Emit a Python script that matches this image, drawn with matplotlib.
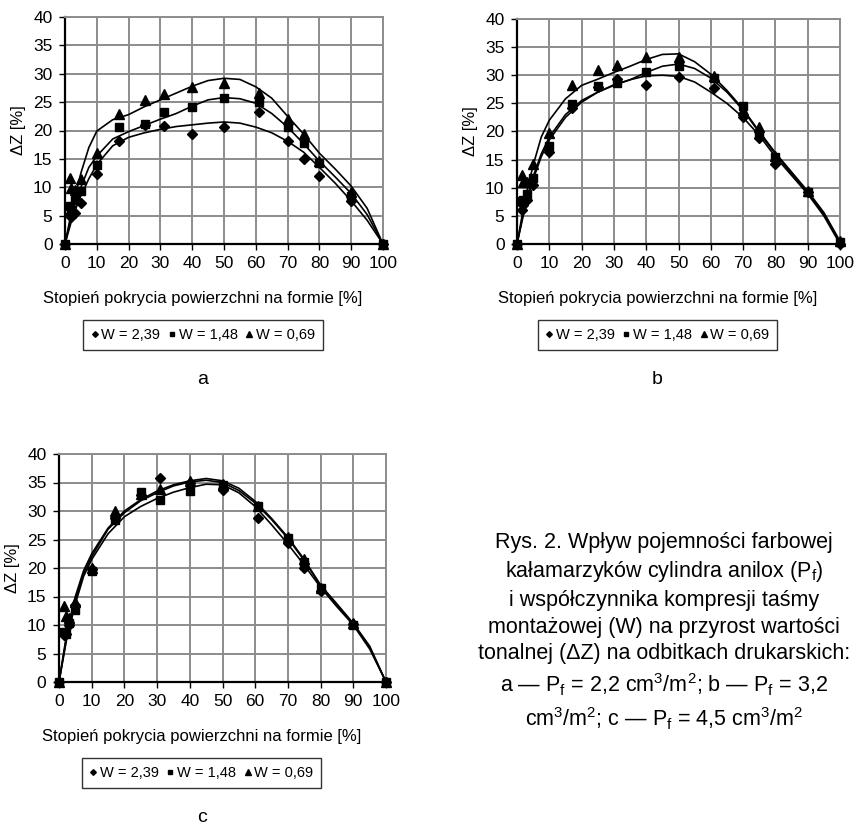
import matplotlib
matplotlib.use('Agg')
import matplotlib.pyplot as plt
from matplotlib.lines import Line2D

plt.rcParams['font.family'] = ['Liberation Sans', 'DejaVu Sans']
plt.rcParams['mathtext.fontset'] = 'custom'
plt.rcParams['mathtext.rm'] = 'Liberation Sans'
plt.rcParams['mathtext.it'] = 'Liberation Sans:italic'

# stopien pokrycia powierzchni na formie [%] - punkty pomiarowe
pokrycie = [0, 1.5, 2, 3, 5, 10, 17, 25, 31, 40, 50, 61, 70, 75, 80, 90, 100]

# przyrost wartosci tonalnej dZ [%], Pf = 2,2 cm3/m2
a_w239 = [0, 5.2, 4.8, 5.5, 7.3, 12.3, 18.1, 21.0, 20.8, 19.3, 20.7, 23.2, 18.1, 15.0, 11.9, 7.5, 0]
a_w148 = [0, 6.7, 6.0, 7.8, 9.3, 13.9, 20.6, 21.2, 23.2, 24.1, 25.8, 25.1, 20.6, 17.8, 14.2, 8.4, 0]
a_w069 = [0, 11.7, 9.8, 9.5, 11.4, 16.0, 22.9, 25.4, 26.5, 27.7, 28.4, 26.6, 22.0, 19.4, 14.6, 9.1, 0]

# Pf = 3,2 cm3/m2
b_w239 = [0, 6.1, 7.0, 7.9, 10.5, 16.4, 24.1, 27.9, 29.3, 28.2, 29.6, 27.8, 22.5, 18.8, 14.2, 9.2, 0]
b_w148 = [0, 7.6, 7.8, 8.9, 11.7, 17.5, 24.9, 28.0, 28.6, 30.5, 31.7, 29.5, 24.6, 19.5, 15.5, 9.3, 0.3]
b_w069 = [0, 12.3, 11.1, 11.0, 14.2, 19.8, 28.3, 30.9, 31.8, 33.2, 33.2, 29.8, 23.8, 20.8, 15.7, 9.5, 0.5]

# Pf = 4,5 cm3/m2
c_w239 = [0, 8.3, 8.5, 10.0, 13.5, 19.8, 28.7, 32.8, 35.8, 35.0, 33.6, 28.8, 24.4, 20.0, 16.0, 10.2, 0]
c_w148 = [0, 8.8, 8.5, 10.3, 12.6, 19.5, 28.5, 33.3, 32.0, 33.5, 34.5, 30.9, 25.3, 21.0, 16.5, 10.0, 0]
c_w069 = [0, 13.3, 11.6, 11.2, 14.0, 20.0, 30.0, 33.0, 33.9, 35.2, 34.8, 30.8, 25.5, 21.5, 16.5, 10.3, 0]

# linie trendu
x_trend = [0, 2.5, 5, 7.5, 10, 15, 20, 25, 30, 35, 40, 45, 50, 55, 60, 65, 70, 75, 80, 85, 90, 95, 100]
a_t239 = [0, 5, 8.5, 11.5, 14.0, 17.3, 18.8, 19.6, 20.2, 20.7, 21.0, 21.3, 21.5, 21.3, 20.6, 19.6, 18.1, 16.2, 13.5, 10.7, 7.6, 4.2, 0]
a_t148 = [0, 6, 10, 13.5, 15.5, 18.5, 19.8, 20.9, 22.0, 23.0, 24.3, 25.4, 25.8, 25.6, 24.8, 23.0, 20.6, 17.7, 14.6, 11.8, 8.9, 5.2, 0]
a_t069 = [0, 7, 12.5, 17, 19.9, 21.9, 22.8, 24.2, 25.4, 26.6, 27.8, 28.8, 29.2, 29.0, 27.7, 25.7, 22.5, 19.4, 16.0, 13.2, 10.2, 6.3, 0]
b_t239 = [0, 6.5, 11.5, 15.5, 18.5, 22.5, 25.2, 27.0, 28.2, 29.2, 29.9, 30.0, 29.8, 28.8, 27.0, 25.0, 22.5, 19.3, 15.5, 12.2, 8.9, 5.0, 0]
b_t148 = [0, 7, 12, 16, 19, 23, 25.5, 27, 28.3, 29.2, 30.5, 31.6, 32, 31.2, 29.5, 27, 23.8, 19.8, 16, 12.5, 9.1, 5.3, 0.3]
b_t069 = [0, 8, 14, 19, 22, 25.8, 28.2, 29.3, 30.5, 31.6, 32.8, 33.7, 33.8, 32.4, 30.2, 27.3, 24.0, 20.0, 16.2, 12.8, 9.4, 5.6, 0.5]
c_t239 = [0, 8, 13.7, 18.5, 21.5, 26, 29, 30.8, 32.2, 33.3, 34.1, 34.7, 34.6, 33.2, 30.8, 27.6, 24.2, 20.5, 16.6, 13.2, 10, 5.8, 0]
c_t148 = [0, 8.5, 14.3, 19, 22, 26.8, 29.7, 31.8, 33.2, 34.4, 35.1, 35.4, 35.0, 33.6, 31.4, 28.5, 25.2, 21.3, 16.9, 13.5, 10.2, 6.1, 0]
c_t069 = [0, 9, 15, 19.5, 22.5, 27, 30, 32, 33.5, 34.6, 35.3, 35.7, 35.3, 34, 31.7, 28.7, 25.4, 21.5, 17, 13.7, 10.3, 6.3, 0]

etykiety = ['W = 2,39', 'W = 1,48', 'W = 0,69']
markery = [('D', 4.8), ('s', 5.2), ('^', 6.5)]

W, H = 856, 826
fig = plt.figure(figsize=(W / 100, H / 100), dpi=100)


def box(left, top, right, bottom):
    return [left / W, 1 - bottom / H, (right - left) / W, (bottom - top) / H]


def panel(rect, punkty, trendy, litera):
    ax = fig.add_axes(box(*rect))
    for t in trendy:
        ax.plot(x_trend, t, color='black', lw=1.2, zorder=3)
    for y, (m, s) in zip(punkty, markery):
        ax.plot(pokrycie, y, ls='none', marker=m, ms=s, color='black', zorder=4, clip_on=False)
    ax.set_xlim(0, 100)
    ax.set_ylim(0, 40)
    ax.set_xticks(range(0, 101, 10))
    ax.set_yticks(range(0, 41, 5))
    ax.grid(True, color='#8c8c8c', lw=1.4)
    ax.set_axisbelow(True)
    for s in ('left', 'bottom'):
        ax.spines[s].set_color('black')
        ax.spines[s].set_linewidth(1.6)
    for s in ('top', 'right'):
        ax.spines[s].set_color('#8c8c8c')
        ax.spines[s].set_linewidth(1.4)
    ax.tick_params(direction='out', length=4, width=1, labelsize=12.5, pad=5)
    ax.set_ylabel('ΔZ [%]', fontsize=12, labelpad=5)

    # opisy pod wykresem: srodek calego obszaru wykresu razem z opisem osi Y
    cx = (rect[0] + rect[2]) / 2 - 21
    dol = rect[3]
    fig.text(cx / W, 1 - (dol + 55) / H, 'Stopień pokrycia powierzchni na formie [%]',
             ha='center', va='center', fontsize=12)
    uchwyty = [Line2D([], [], ls='none', marker=m, ms=s * 0.6, color='black') for m, s in markery]
    leg = fig.legend(uchwyty, etykiety, loc='center', bbox_to_anchor=(cx / W, 1 - (dol + 91) / H),
                     ncol=3, fontsize=10.5, frameon=True, fancybox=False, edgecolor='black',
                     handlelength=0.5, handletextpad=0.2, columnspacing=0.55, borderpad=0.55,
                     borderaxespad=0)
    leg.get_frame().set_linewidth(1.0)
    fig.text(cx / W, 1 - (dol + 136) / H, litera, ha='center', va='center', fontsize=14)
    return ax


panel((65, 17, 383, 244), [a_w239, a_w148, a_w069], [a_t239, a_t148, a_t069], 'a')
panel((517, 19, 840, 244), [b_w239, b_w148, b_w069], [b_t239, b_t148, b_t069], 'b')
panel((59, 454, 386, 682), [c_w239, c_w148, c_w069], [c_t239, c_t148, c_t069], 'c')

podpis = ('Rys. 2. Wpływ pojemności farbowej\n'
          'kałamarzyków cylindra anilox (P$_\\mathrm{f}$)\n'
          'i współczynnika kompresji taśmy\n'
          'montażowej (W) na przyrost wartości\n'
          'tonalnej (ΔZ) na odbitkach drukarskich:\n'
          'a — P$_\\mathrm{f}$ = 2,2 cm$^\\mathrm{3}$/m$^\\mathrm{2}$; b — P$_\\mathrm{f}$ = 3,2\n'
          'cm$^\\mathrm{3}$/m$^\\mathrm{2}$; c — P$_\\mathrm{f}$ = 4,5 cm$^\\mathrm{3}$/m$^\\mathrm{2}$')
fig.text(664 / W, 1 - 632 / H, podpis, ha='center', va='center', fontsize=15.5,
         linespacing=1.36, multialignment='center')

fig.savefig('out.png', dpi=100)
